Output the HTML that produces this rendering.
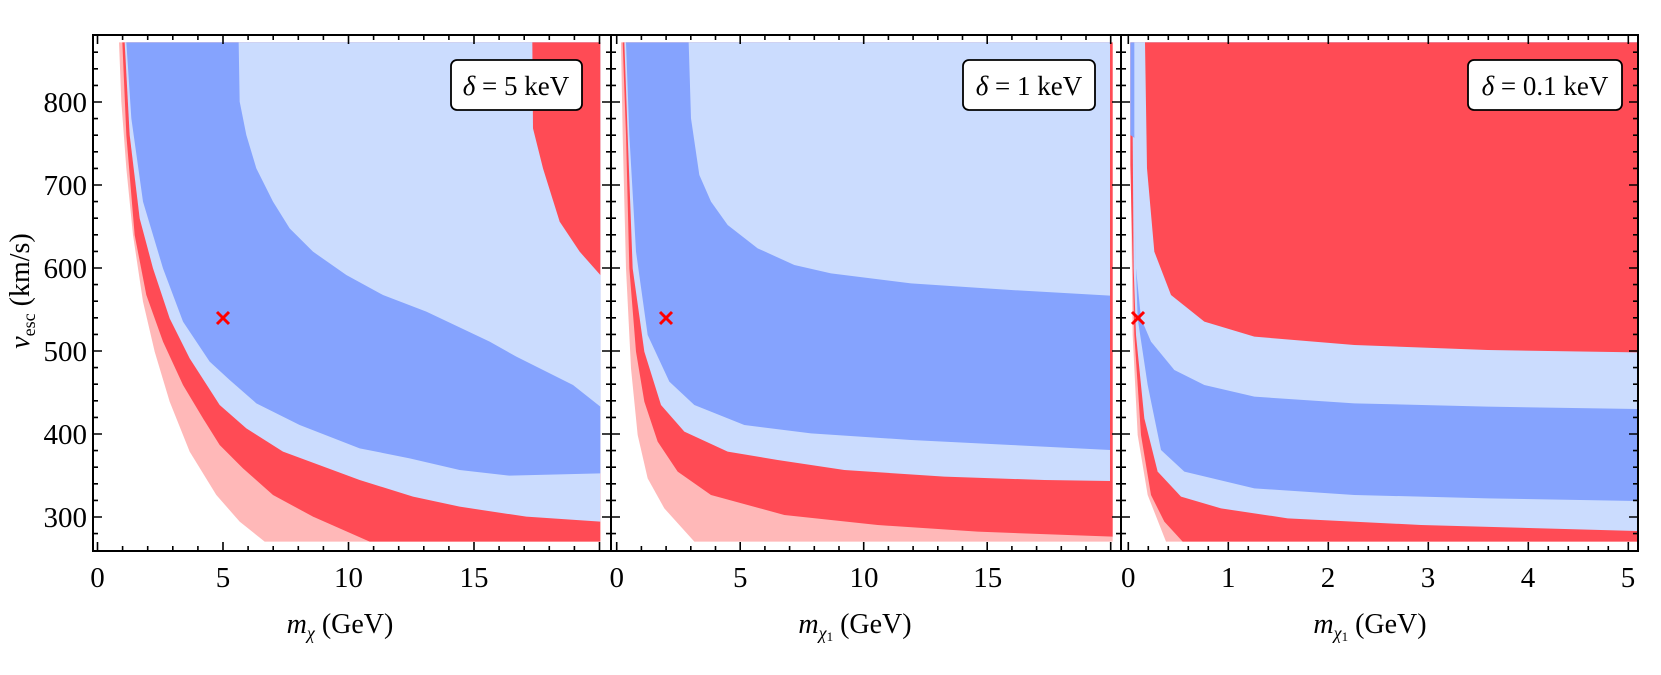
<!DOCTYPE html>
<html><head><meta charset="utf-8"><style>
html,body{margin:0;padding:0;background:#fff;}
svg{display:block;}
svg text{font-family:"Liberation Serif","DejaVu Serif",serif;fill:#000;}
</style></head><body>
<svg id="s" width="1661" height="675" viewBox="0 0 1661 675" xmlns="http://www.w3.org/2000/svg" font-family="Liberation Serif, DejaVu Serif, serif">
<g transform="translate(93,35) scale(0.33333)">
<polygon fill="#ffb8b8" points="78,22 85,200 100,400 120,600 150,800 185,950 230,1100 290,1250 370,1380 440,1460 515,1520 1522,1520 1522,22"/>
<polygon fill="#ff4b55" points="88,22 100,300 125,600 160,780 210,920 270,1050 330,1150 380,1230 450,1300 540,1380 660,1445 830,1520 1522,1520 1522,22"/>
<polygon fill="#cbdcfe" points="95,22 110,300 140,550 180,700 230,850 290,970 380,1110 460,1180 570,1250 800,1335 960,1385 1100,1415 1300,1445 1522,1460 1522,22"/>
<polygon fill="#85a3fe" points="100,22 115,250 150,500 210,700 270,860 350,980 410,1035 490,1105 620,1170 800,1240 950,1270 1100,1305 1250,1322 1522,1315 1522,22"/>
<polygon fill="#cbdcfe" points="437,22 440,200 460,300 490,400 540,500 590,580 660,650 760,720 870,780 1000,830 1190,920 1270,965 1440,1050 1522,1115 1522,22"/>
<polygon fill="#ff4b55" points="1318,22 1320,280 1350,400 1400,560 1460,650 1522,720 1522,22"/>
</g>
<g transform="translate(611,35) scale(0.33333)">
<polygon fill="#ffb8b8" points="30,22 35,300 45,700 60,1000 80,1200 110,1330 160,1420 250,1520 1505,1520 1505,22"/>
<polygon fill="#ff4b55" points="35,22 45,300 55,700 75,950 100,1100 140,1220 200,1310 300,1380 520,1440 800,1470 1100,1490 1505,1505 1505,22"/>
<polygon fill="#cbdcfe" points="40,22 50,300 65,700 100,950 150,1110 220,1190 350,1250 500,1275 700,1305 1000,1325 1300,1335 1497,1338 1497,22"/>
<polygon fill="#85a3fe" points="45,22 55,300 75,650 110,900 175,1040 250,1110 400,1170 600,1195 900,1215 1200,1230 1497,1245 1497,22"/>
<polygon fill="#cbdcfe" points="233,22 240,250 265,420 300,500 350,570 440,640 550,690 660,715 900,745 1200,765 1497,782 1497,22"/>
</g>
<g transform="translate(1121,35) scale(0.33333)">
<polygon fill="#ffb8b8" points="30,480 35,900 50,1200 80,1380 135,1520 1548,1520 1548,22 30,22"/>
<polygon fill="#ff4b55" points="28,390 40,900 60,1200 90,1380 130,1460 185,1520 1548,1520 1548,22 28,22"/>
<polygon fill="#cbdcfe" points="33,22 38,700 45,900 70,1150 110,1310 180,1385 300,1420 500,1450 900,1470 1548,1488 1548,22"/>
<polygon fill="#85a3fe" points="28,22 28,300 42,310 45,700 50,850 80,1050 120,1245 190,1310 400,1360 700,1380 1100,1390 1548,1398 1548,22"/>
<polygon fill="#cbdcfe" points="40,22 40,300 45,700 60,850 90,920 160,1005 250,1050 400,1085 700,1105 1100,1115 1548,1122 1548,22"/>
<polygon fill="#ff4b55" points="72,22 78,400 100,650 150,780 250,860 400,905 700,930 1100,945 1548,952 1548,22"/>
</g>
<g stroke="#f00" stroke-width="3">
<path d="M217,312 L229,324 M229,312 L217,324"/>
<path d="M660,312 L672,324 M672,312 L660,324"/>
<path d="M1132,312 L1144,324 M1144,312 L1132,324"/>
</g>
<g fill="#fff" stroke="#000" stroke-width="1.8">
<rect x="451" y="60" width="131" height="50" rx="6"/>
<rect x="963" y="60" width="132" height="50" rx="6"/>
<rect x="1468" y="60" width="154" height="50" rx="6"/>
</g>
<g font-size="27" text-anchor="middle">
<text x="516" y="95"><tspan font-style="italic">δ</tspan> = 5 keV</text>
<text x="1029" y="95"><tspan font-style="italic">δ</tspan> = 1 keV</text>
<text x="1545" y="95"><tspan font-style="italic">δ</tspan> = 0.1 keV</text>
</g>
<g fill="none" stroke="#000" stroke-width="2">
<rect x="93" y="35" width="1545" height="516"/>
<line x1="611" y1="35" x2="611" y2="551"/>
<line x1="1121" y1="35" x2="1121" y2="551"/>
</g>
<path id="ticks" fill="none" stroke="#000" stroke-width="1.6" d=""/>
<g font-size="29" text-anchor="end">
<text x="87" y="112">800</text>
<text x="87" y="195">700</text>
<text x="87" y="278">600</text>
<text x="87" y="361">500</text>
<text x="87" y="444">400</text>
<text x="87" y="527">300</text>
</g>
<g font-size="29" text-anchor="middle">
<text x="97.5" y="587">0</text><text x="223" y="587">5</text><text x="348.5" y="587">10</text><text x="474" y="587">15</text>
<text x="616.7" y="587">0</text><text x="740.3" y="587">5</text><text x="864" y="587">10</text><text x="987.7" y="587">15</text>
<text x="1128.3" y="587">0</text><text x="1228.3" y="587">1</text><text x="1328" y="587">2</text><text x="1428" y="587">3</text><text x="1528" y="587">4</text><text x="1628" y="587">5</text>
</g>
<g font-size="28" text-anchor="middle">
<text x="340" y="633"><tspan font-style="italic">m</tspan><tspan font-style="italic" font-size="18" dy="6">χ</tspan><tspan dy="-6"> (GeV)</tspan></text>
<text x="855" y="633"><tspan font-style="italic">m</tspan><tspan font-style="italic" font-size="18" dy="6">χ</tspan><tspan font-size="13" dy="2">1</tspan><tspan dy="-8"> (GeV)</tspan></text>
<text x="1370" y="633"><tspan font-style="italic">m</tspan><tspan font-style="italic" font-size="18" dy="6">χ</tspan><tspan font-size="13" dy="2">1</tspan><tspan dy="-8"> (GeV)</tspan></text>
<text transform="translate(29,291) rotate(-90)"><tspan font-style="italic">v</tspan><tspan font-size="18" dy="6">esc</tspan><tspan dy="-6"> (km/s)</tspan></text>
</g>
</svg>
<script>
(function(){
var d="";
function vy(v){return 517-(v-300)*0.83;}
var xs=[[93,1],[611,-1],[611,1],[1121,-1],[1121,1],[1638,-1]];
for(var v=280;v<=860;v+=20){
 var y=vy(v); if(y<36||y>550)continue;
 var L=(v%100===0)?9:5;
 xs.forEach(function(p){d+="M"+p[0]+","+y.toFixed(1)+"h"+(p[1]*L);});
}
function xt(x0,scale,step,max,majorEvery,xmin,xmax){
 for(var i=0;i*step<=max+1e-9;i++){
  var val=i*step; var x=x0+val*scale; if(x<xmin||x>xmax)continue;
  var maj=Math.abs(val/majorEvery-Math.round(val/majorEvery))<1e-6;
  var L=maj?9:5;
  d+="M"+x.toFixed(1)+",551v-"+L+"M"+x.toFixed(1)+",35v"+L;
 }
}
xt(97.5,25.1,1,20,5,94,610);
xt(616.7,24.7,1,20,5,612,1120);
xt(1128.3,100,0.2,5.05,1,1122,1637);
document.getElementById("ticks").setAttribute("d",d);
})();
</script>
</body></html>
